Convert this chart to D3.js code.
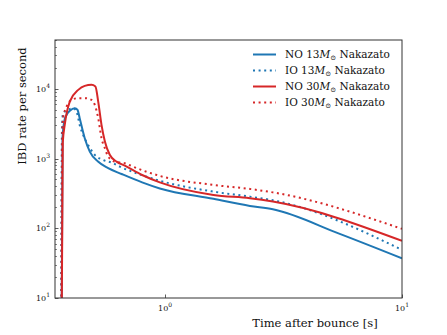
<!DOCTYPE html>
<html>
<head>
<meta charset="utf-8">
<script src="https://cdn.jsdelivr.net/npm/d3@7"></script>
<style>
  body { margin: 0; background: #fff; }
  text { font-family: "DejaVu Serif", serif; fill: #111; }
</style>
</head>
<body>
<div id="chart"></div>
<script>
// series (time after bounce [s], IBD rate per second)
var timeNO13 = [0.366, 0.369, 0.376, 0.384, 0.396, 0.416, 0.427, 0.436, 0.458, 0.481, 0.521, 0.575, 0.655, 0.80, 0.95, 1.6, 2.28, 2.85, 5.46, 10];
var rateNO13 = [5, 2000, 3500, 4220, 4820, 5270, 4980, 3790, 1955, 1256, 903, 726, 600, 455, 372, 264, 209, 187, 83, 37];

var timeIO13 = [0.364, 0.367, 0.371, 0.390, 0.409, 0.423, 0.436, 0.451, 0.473, 0.505, 0.547, 0.604, 0.644, 0.757, 0.95, 1.6, 2.28, 2.85, 10];
var rateIO13 = [5, 2500, 4470, 4980, 5270, 4710, 3030, 2180, 1567, 1127, 955, 857, 765, 615, 480, 335, 284, 252, 49];

var timeNO30 = [0.366, 0.370, 0.377, 0.396, 0.430, 0.458, 0.489, 0.508, 0.522, 0.539, 0.557, 0.584, 0.624, 0.676, 0.80, 0.95, 1.6, 2.28, 2.85, 10];
var rateNO30 = [5, 1700, 3030, 6550, 9640, 11000, 11380, 10770, 6550, 3030, 1750, 1130, 903, 790, 580, 455, 300, 269, 241, 66];

var timeIO30 = [0.365, 0.368, 0.371, 0.384, 0.403, 0.430, 0.458, 0.489, 0.505, 0.522, 0.539, 0.557, 0.575, 0.614, 0.676, 0.731, 0.95, 1.6, 2.28, 2.85, 10];
var rateIO30 = [5, 2000, 3790, 5560, 6930, 7330, 7330, 6930, 5870, 3790, 1955, 1405, 1065, 903, 857, 765, 563, 418, 366, 327, 98];

var seriesNames = ["NO 13", "IO 13", "NO 30", "IO 30"];
var xTicks = [1, 10];
var yTicks = [10, 100, 1000, 10000];

var width = 447,
  height = 335,
  margin = { top: 40, right: 45, bottom: 37, left: 55 };

var blue = "#1f77b4",
  red = "#d62728";

var series = [
  { name: seriesNames[0], t: timeNO13, r: rateNO13, color: blue, dotted: false },
  { name: seriesNames[1], t: timeIO13, r: rateIO13, color: blue, dotted: true },
  { name: seriesNames[2], t: timeNO30, r: rateNO30, color: red, dotted: false },
  { name: seriesNames[3], t: timeIO30, r: rateIO30, color: red, dotted: true }
];

var svg = d3.select("#chart")
  .append("svg")
  .attr("width", width)
  .attr("height", height);

var x = d3.scaleLog()
  .domain([0.343, 10])
  .range([margin.left, width - margin.right]);

var y = d3.scaleLog()
  .domain([10, 50000])
  .range([height - margin.bottom, margin.top]);

svg.append("clipPath")
  .attr("id", "plotclip")
  .append("rect")
  .attr("x", margin.left)
  .attr("y", margin.top)
  .attr("width", width - margin.left - margin.right)
  .attr("height", height - margin.top - margin.bottom);

var line = d3.line()
  .curve(d3.curveMonotoneX)
  .x(function(d) { return x(d[0]); })
  .y(function(d) { return y(d[1]); });

var plot = svg.append("g").attr("clip-path", "url(#plotclip)");

series.forEach(function(s) {
  var pts = s.t.map(function(t, i) { return [t, s.r[i]]; });
  plot.append("path")
    .datum(pts)
    .attr("d", line)
    .attr("fill", "none")
    .attr("stroke", s.color)
    .attr("stroke-width", 2)
    .attr("stroke-linejoin", "round")
    .attr("stroke-dasharray", s.dotted ? "2,3.6" : null);
});

// frame
var axColor = "#333";
svg.append("rect")
  .attr("x", margin.left)
  .attr("y", margin.top)
  .attr("width", width - margin.left - margin.right)
  .attr("height", height - margin.top - margin.bottom)
  .attr("fill", "none")
  .attr("stroke", axColor)
  .attr("stroke-width", 1);

// y ticks (inward), majors + minors
var yMinor = [];
for (var e = 1; e <= 4; e++) {
  for (var m = 2; m <= 9; m++) {
    var v = m * Math.pow(10, e);
    if (v <= 50000) yMinor.push(v);
  }
}
svg.append("g").selectAll("line.minor")
  .data(yMinor)
  .enter().append("line")
  .attr("x1", margin.left)
  .attr("x2", margin.left + 2)
  .attr("y1", function(d) { return Math.round(y(d)) + 0.5; })
  .attr("y2", function(d) { return Math.round(y(d)) + 0.5; })
  .attr("stroke", axColor)
  .attr("stroke-width", 0.6);

svg.append("g").selectAll("line.major")
  .data(yTicks)
  .enter().append("line")
  .attr("x1", margin.left)
  .attr("x2", margin.left + 3.5)
  .attr("y1", function(d) { return Math.round(y(d)) + 0.5; })
  .attr("y2", function(d) { return Math.round(y(d)) + 0.5; })
  .attr("stroke", axColor)
  .attr("stroke-width", 0.8);

function powLabel(sel, d) {
  var ex = Math.round(Math.log10(d));
  sel.append("tspan").text("10");
  sel.append("tspan").attr("dy", -4).attr("font-size", 6).text(ex);
}

svg.append("g").selectAll("text")
  .data(yTicks)
  .enter().append("text")
  .attr("x", margin.left - 5)
  .attr("y", function(d) { return y(d) + 3; })
  .attr("text-anchor", "end")
  .attr("font-size", 8)
  .each(function(d) { powLabel(d3.select(this), d); });

// x ticks
svg.append("g").selectAll("line")
  .data(xTicks)
  .enter().append("line")
  .attr("x1", function(d) { return Math.round(x(d)) + 0.5; })
  .attr("x2", function(d) { return Math.round(x(d)) + 0.5; })
  .attr("y1", height - margin.bottom)
  .attr("y2", height - margin.bottom - 3.5)
  .attr("stroke", axColor)
  .attr("stroke-width", 0.8);

svg.append("g").selectAll("text")
  .data(xTicks)
  .enter().append("text")
  .attr("x", function(d) { return x(d); })
  .attr("y", height - margin.bottom + 13)
  .attr("text-anchor", "middle")
  .attr("font-size", 8)
  .each(function(d) { powLabel(d3.select(this), d); });

// axis labels
svg.append("text")
  .attr("x", 315)
  .attr("y", 327)
  .attr("text-anchor", "middle")
  .attr("font-size", 11.5)
  .text("Time after bounce [s]");

svg.append("text")
  .attr("transform", "translate(26,106) rotate(-90)")
  .attr("text-anchor", "middle")
  .attr("font-size", 11.5)
  .text("IBD rate per second");

// legend (no frame)
var legendMass = ["13", "13", "30", "30"];
var legendOrder = ["NO", "IO", "NO", "IO"];
var leg = svg.append("g");
series.forEach(function(s, i) {
  var ly = 54.5 + i * 16;
  leg.append("line")
    .attr("x1", 253)
    .attr("x2", 276)
    .attr("y1", ly)
    .attr("y2", ly)
    .attr("stroke", s.color)
    .attr("stroke-width", 2)
    .attr("stroke-dasharray", s.dotted ? "2,3.6" : null);
  var t = leg.append("text")
    .attr("x", 285)
    .attr("y", ly + 3.5)
    .attr("font-size", 10.5);
  t.append("tspan").text(legendOrder[i] + " " + legendMass[i]);
  t.append("tspan").attr("font-style", "italic").text("M");
  t.append("tspan").attr("font-size", 7).attr("dy", 2).text("\u2299");
  t.append("tspan").attr("dy", -2).text(" Nakazato");
});
</script>
</body>
</html>
